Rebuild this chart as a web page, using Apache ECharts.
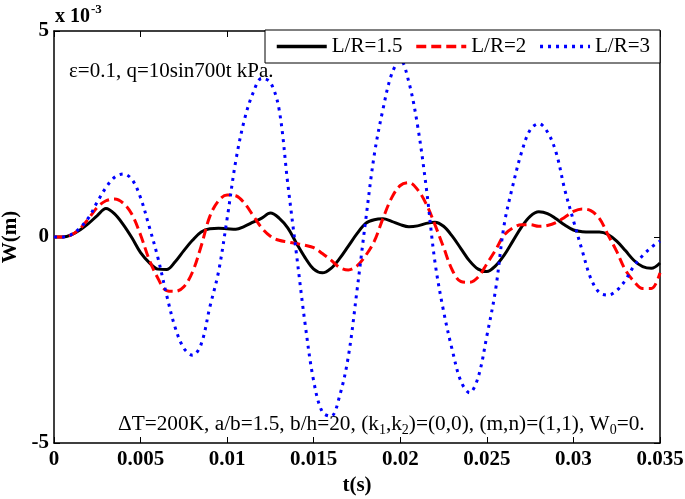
<!DOCTYPE html>
<html><head><meta charset="utf-8">
<script src="https://cdn.jsdelivr.net/npm/echarts@6/dist/echarts.min.js"></script>
<style>html,body{margin:0;padding:0;background:#fff}#c{width:685px;height:499px}</style>
</head><body><div id="c"></div>
<script>
// time in milliseconds
const tMs = [0,0.5,1,1.5,2,2.5,3,3.5,4,4.5,5,5.5,6,6.5,7,7.5,8,8.5,9,9.5,10,10.5,11,11.5,12,12.5,13,13.5,14,14.5,15,15.5,16,16.5,17,17.5,18,18.5,19,19.5,20,20.5,21,21.5,22,22.5,23,23.5,24,24.5,25,25.5,26,26.5,27,27.5,28,28.5,29,29.5,30,30.5,31,31.5,32,32.5,33,33.5,34,34.5,35];
// W in units of 1e-3 m
const wLR15 = [0,0,0.05,0.17,0.33,0.52,0.69,0.56,0.30,-0.02,-0.38,-0.62,-0.78,-0.79,-0.60,-0.33,-0.08,0.12,0.20,0.21,0.20,0.19,0.26,0.36,0.46,0.58,0.46,0.22,-0.15,-0.50,-0.78,-0.87,-0.76,-0.52,-0.22,0.08,0.33,0.42,0.44,0.38,0.30,0.25,0.27,0.33,0.36,0.26,0.02,-0.28,-0.58,-0.78,-0.84,-0.70,-0.44,-0.10,0.24,0.50,0.61,0.57,0.44,0.29,0.17,0.13,0.12,0.12,0.06,-0.10,-0.33,-0.57,-0.72,-0.76,-0.63];
const wLR2 = [0,0,0.05,0.20,0.45,0.72,0.88,0.92,0.82,0.55,0.05,-0.55,-1.00,-1.30,-1.32,-1.21,-0.85,-0.22,0.50,0.88,1.02,1.00,0.82,0.52,0.22,0.02,-0.08,-0.12,-0.16,-0.20,-0.26,-0.40,-0.56,-0.74,-0.80,-0.70,-0.45,-0.10,0.45,0.95,1.25,1.32,1.15,0.80,0.30,-0.25,-0.80,-1.08,-1.10,-0.97,-0.65,-0.32,0.05,0.22,0.30,0.30,0.26,0.28,0.35,0.48,0.62,0.68,0.64,0.45,0.05,-0.35,-0.80,-1.08,-1.25,-1.25,-0.87];
const wLR3 = [0,0,0.06,0.22,0.47,0.85,1.20,1.45,1.53,1.40,0.95,0.25,-0.50,-1.40,-2.20,-2.70,-2.87,-2.60,-1.70,-0.85,0.45,1.85,2.85,3.50,3.85,3.75,3.10,1.30,-0.40,-2.10,-3.50,-4.25,-4.35,-3.85,-2.90,-1.30,0.40,2.00,3.10,3.95,4.30,3.75,2.70,1.20,-0.60,-1.80,-2.74,-3.50,-3.78,-3.40,-2.40,-1.29,0.30,1.25,2.05,2.60,2.75,2.55,2.05,1.15,0.40,-0.32,-1.00,-1.35,-1.41,-1.30,-1.05,-0.70,-0.45,-0.25,-0.10];
const names = ['L/R=1.5','L/R=2','L/R=3'];

const pairs = w => tMs.map((t,i) => [t*0.001, w[i]]);
const font = 'Liberation Serif';
const chart = echarts.init(document.getElementById('c'));
const axisCommon = () => ({
  axisLine:{show:true,onZero:false,lineStyle:{color:'#000',width:1.5}},
  axisTick:{show:true,inside:true,length:6,lineStyle:{color:'#000',width:1}},
  splitLine:{show:false}
});
chart.setOption({
  animation:false,
  backgroundColor:'#fff',
  grid:{left:54,right:25,top:31,bottom:56,containLabel:false,outerBoundsMode:'none'},
  legend:{
    data:names,left:265,top:30,orient:'horizontal',
    padding:[6,10,6,10],itemGap:12,itemWidth:50,itemHeight:14,
    borderColor:'#000',borderWidth:1,backgroundColor:'#fff',
    itemStyle:{opacity:0},
    lineStyle:{width:3.5},
    textStyle:{fontFamily:font,fontSize:21,color:'#000'}
  },
  xAxis:[
    Object.assign(axisCommon(),{type:'value',min:0,max:0.035,interval:0.005,position:'bottom',
      name:'t(s)',nameLocation:'middle',nameGap:28,
      nameTextStyle:{fontFamily:font,fontSize:21,fontWeight:'bold',color:'#000'},
      axisLabel:{margin:6,fontFamily:font,fontSize:21,fontWeight:'bold',color:'#000',
        formatter:v=>String(+v.toFixed(3))}}),
    Object.assign(axisCommon(),{type:'value',min:0,max:0.035,interval:0.005,position:'top',axisLabel:{show:false}})
  ],
  yAxis:[
    Object.assign(axisCommon(),{type:'value',min:-5,max:5,interval:5,position:'left',
      name:'W(m)',nameLocation:'middle',nameGap:28,
      nameTextStyle:{fontFamily:font,fontSize:21,fontWeight:'bold',color:'#000'},
      axisLabel:{margin:5,fontFamily:font,fontSize:21,fontWeight:'bold',color:'#000'}}),
    Object.assign(axisCommon(),{type:'value',min:-5,max:5,interval:5,position:'right',axisLabel:{show:false}})
  ],
  graphic:[
    {type:'text',left:55,top:3,style:{
      text:'{a|x 10}{b|-3}',
      rich:{a:{fontFamily:font,fontSize:20,fontWeight:'bold',fill:'#000'},
            b:{fontFamily:font,fontSize:13,fontWeight:'bold',fill:'#000',padding:[0,0,14,1]}}}},
    {type:'text',left:69,top:61,style:{text:'ε=0.1, q=10sin700t kPa.',fontFamily:font,fontSize:21,fill:'#000'}},
    {type:'text',left:118,top:414,style:{
      text:'{n|ΔT=200K, a/b=1.5, b/h=20, (k}{s|1}{n|,k}{s|2}{n|)=(0,0), (m,n)=(1,1), W}{s|0}{n|=0.}',
      rich:{n:{fontFamily:font,fontSize:21.3,fill:'#000'},
            s:{fontFamily:font,fontSize:14,fill:'#000',padding:[12,0,0,0]}}}}
  ],
  series:[
    {name:names[0],type:'line',data:pairs(wLR15),symbol:'none',smooth:0.35,
     lineStyle:{color:'#000',width:3}},
    {name:names[1],type:'line',data:pairs(wLR2),symbol:'none',smooth:0.35,
     lineStyle:{color:'#ff0000',width:3,type:[10,5]}},
    {name:names[2],type:'line',data:pairs(wLR3),symbol:'none',smooth:0.35,
     lineStyle:{color:'#0000ff',width:3,type:[3,5]}}
  ],
  color:['#000','#ff0000','#0000ff']
});
</script></body></html>
